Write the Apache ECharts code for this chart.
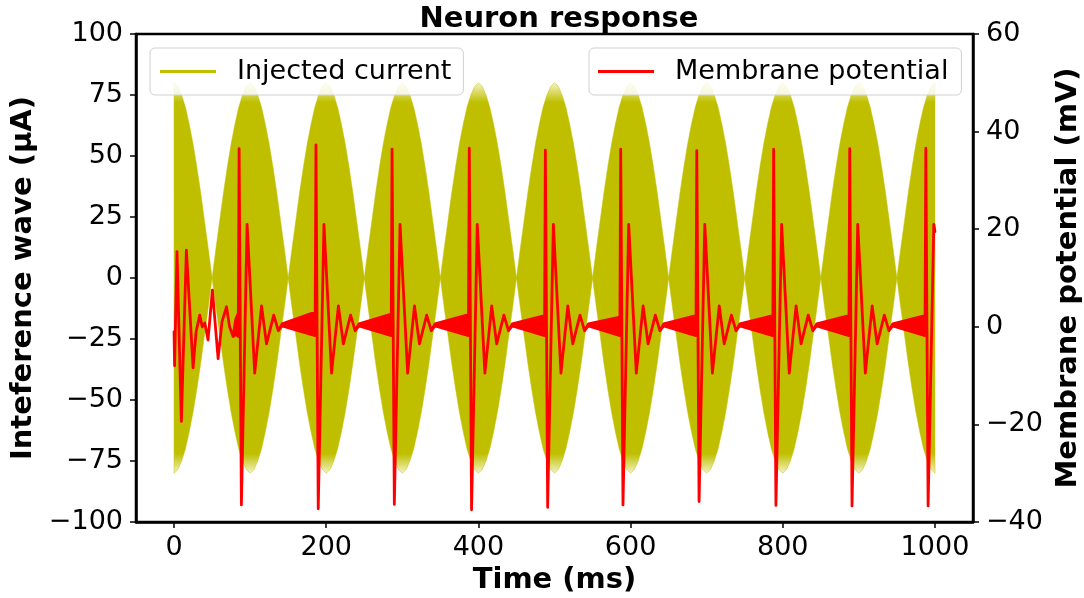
<!DOCTYPE html>
<html>
<head>
<meta charset="utf-8">
<script src="https://cdn.jsdelivr.net/npm/echarts@6/dist/echarts.min.js"></script>
<style>
html,body{margin:0;padding:0;background:#ffffff;}
#chart{width:1084px;height:598px;}
</style>
</head>
<body>
<div id="chart"></div>
<script>
// ---------- data ----------
const xTickValues = [0, 200, 400, 600, 800, 1000];

// Injected current: amplitude envelope of the fast carrier (µA), every 5 ms
const envTime = [
  0,5,10,15,20,25,30,35,40,45,50,55,60,65,70,75,80,85,90,95,
  100,105,110,115,120,125,130,135,140,145,150,155,160,165,170,175,180,185,190,195,
  200,205,210,215,220,225,230,235,240,245,250,255,260,265,270,275,280,285,290,295,
  300,305,310,315,320,325,330,335,340,345,350,355,360,365,370,375,380,385,390,395,
  400,405,410,415,420,425,430,435,440,445,450,455,460,465,470,475,480,485,490,495,
  500,505,510,515,520,525,530,535,540,545,550,555,560,565,570,575,580,585,590,595,
  600,605,610,615,620,625,630,635,640,645,650,655,660,665,670,675,680,685,690,695,
  700,705,710,715,720,725,730,735,740,745,750,755,760,765,770,775,780,785,790,795,
  800,805,810,815,820,825,830,835,840,845,850,855,860,865,870,875,880,885,890,895,
  900,905,910,915,920,925,930,935,940,945,950,955,960,965,970,975,980,985,990,995,
  1000
];
const envAmp = [
  80,78.5,75,70,63,55,45.5,35,23.5,12,0,12,23.5,35,45.5,55,63,70,75,78.5,
  80,78.5,75,70,63,55,45.5,35,23.5,12,0,12,23.5,35,45.5,55,63,70,75,78.5,
  80,78.5,75,70,63,55,45.5,35,23.5,12,0,12,23.5,35,45.5,55,63,70,75,78.5,
  80,78.5,75,70,63,55,45.5,35,23.5,12,0,12,23.5,35,45.5,55,63,70,75,78.5,
  80,78.5,75,70,63,55,45.5,35,23.5,12,0,12,23.5,35,45.5,55,63,70,75,78.5,
  80,78.5,75,70,63,55,45.5,35,23.5,12,0,12,23.5,35,45.5,55,63,70,75,78.5,
  80,78.5,75,70,63,55,45.5,35,23.5,12,0,12,23.5,35,45.5,55,63,70,75,78.5,
  80,78.5,75,70,63,55,45.5,35,23.5,12,0,12,23.5,35,45.5,55,63,70,75,78.5,
  80,78.5,75,70,63,55,45.5,35,23.5,12,0,12,23.5,35,45.5,55,63,70,75,78.5,
  80,78.5,75,70,63,55,45.5,35,23.5,12,0,12,23.5,35,45.5,55,63,70,75,78.5,
  80
];

// Membrane potential (mV): lower / upper edge of the trace (they differ where the trace is fuzzy)
const mpTime = [
  0,0.7,1.5,3.9,9.6,16.2,25,29,33.8,37,40.5,44.7,50.4,57.9,63,68.9,73,77.6,81,84.5,
  85.5,88.5,96,106,115,121.5,131,137,142,185.5,
  186.5,189.5,197,207,216,222.5,232,238,243,285.5,
  286.5,289.5,297,307,316,322.5,332,338,343,387,
  388,391,398.5,408.5,417.5,424,433.5,439.5,444.5,487,
  488,491,498.5,508.5,517.5,524,533.5,539.5,544.5,586,
  587,590,597.5,607.5,616.5,623,632.5,638.5,643.5,686,
  687,690,697.5,707.5,716.5,723,732.5,738.5,743.5,787,
  788,791,798.5,808.5,817.5,824,833.5,839.5,844.5,887,
  888,891,898.5,908.5,917.5,924,933.5,939.5,944.5,987,
  988,991,998.5,1000
];
const mpLow = [
  -1,-8,-2,15.4,-19.4,15.7,-8.4,-1,2.4,0,0.8,-2.7,7.5,-6.5,1,4.1,0,-2,-1.5,-2,
  36.5,-36.5,21,-9.5,4.3,-3.5,2.4,-0.8,0.2,-1.8,
  37.3,-37.3,21,-9.5,4.3,-3.5,2.4,-0.8,0.2,-1.8,
  36.4,-36.4,21,-9.5,4.3,-3.5,2.4,-0.8,0.2,-1.8,
  36.6,-37.5,21,-9.5,4.3,-3.5,2.4,-0.8,0.2,-1.8,
  36.2,-37,21,-9.5,4.3,-3.5,2.4,-0.8,0.2,-1.8,
  36.4,-36.5,21,-9.5,4.3,-3.5,2.4,-0.8,0.2,-1.8,
  36.1,-35.8,21,-9.5,4.3,-3.5,2.4,-0.8,0.2,-1.8,
  36.4,-36.6,21,-9.5,4.3,-3.5,2.4,-0.8,0.2,-1.8,
  36.5,-36.7,21,-9.5,4.3,-3.5,2.4,-0.8,0.2,-1.8,
  36.6,-36.7,21,19.5
];
const mpHigh = [
  -1,-8,-2,15.4,-19.4,15.7,-8.4,-1,2.4,0,0.8,-2.7,7.5,-6.5,1,4.1,0,-2,1.5,2.8,
  36.5,-36.5,21,-9.5,4.3,-3.5,2.4,-0.8,0.6,3,
  37.3,-37.3,21,-9.5,4.3,-3.5,2.4,-0.8,0.6,2.6,
  36.4,-36.4,21,-9.5,4.3,-3.5,2.4,-0.8,0.6,2.5,
  36.6,-37.5,21,-9.5,4.3,-3.5,2.4,-0.8,0.6,2.3,
  36.2,-37,21,-9.5,4.3,-3.5,2.4,-0.8,0.6,2,
  36.4,-36.5,21,-9.5,4.3,-3.5,2.4,-0.8,0.6,2.3,
  36.1,-35.8,21,-9.5,4.3,-3.5,2.4,-0.8,0.6,2.3,
  36.4,-36.6,21,-9.5,4.3,-3.5,2.4,-0.8,0.6,2.3,
  36.5,-36.7,21,-9.5,4.3,-3.5,2.4,-0.8,0.6,2.3,
  36.6,-36.7,21,19.5
];

// ---------- styling ----------
const OLIVE = '#bfbf00';
const OLIVE_PALE = '#f3f3c4';
const RED = '#ff0000';
const FONT = 'DejaVu Sans';
const TICK_FS = 27;
const LABEL_FS = 29;

const envLow = envAmp.map(v => -v);

function bandRenderer(times, lows, highs, fill, stroke, lw) {
  return function (params, api) {
    const pts = [];
    for (let i = 0; i < times.length; i++) pts.push(api.coord([times[i], highs[i]]));
    for (let i = times.length - 1; i >= 0; i--) pts.push(api.coord([times[i], lows[i]]));
    return {
      type: 'polygon',
      shape: { points: pts },
      style: { fill: fill(api), stroke: stroke(api), lineWidth: lw, lineJoin: 'round' }
    };
  };
}

// pale tips of the carrier (anti-aliased peaks) as a vertical gradient in pixel space
function oliveFill(api) {
  const top = api.coord([0, 80])[1];
  const bot = api.coord([0, -80])[1];
  const h = bot - top;
  const k = (api.coord([0, 72])[1] - top) / h;
  return new echarts.graphic.LinearGradient(0, top, 0, bot, [
    { offset: 0, color: OLIVE_PALE },
    { offset: k, color: OLIVE },
    { offset: 1 - k, color: OLIVE },
    { offset: 1, color: OLIVE_PALE }
  ], true);
}

const minus = v => String(v).replace('-', '\u2212');

const chart = echarts.init(document.getElementById('chart'), null, { renderer: 'canvas' });
chart.setOption({
  animation: false,
  backgroundColor: '#ffffff',
  title: {
    text: 'Neuron response',
    left: 554, top: 0, textAlign: 'center',
    textStyle: { fontFamily: FONT, fontSize: LABEL_FS, fontWeight: 'bold', color: '#000' }
  },
  grid: {
    left: 136, right: 111, top: 34, bottom: 76,
    outerBoundsMode: 'none', containLabel: false,
    show: true, borderColor: '#000', borderWidth: 2.5, backgroundColor: 'transparent'
  },
  legend: [
    {
      left: 150, top: 48,
      data: [{ name: 'Injected current', icon: 'rect', itemStyle: { color: OLIVE } }],
      itemWidth: 56, itemHeight: 3,
      padding: [10, 12, 10, 10],
      backgroundColor: 'rgba(255,255,255,0.8)',
      borderColor: '#d0d0d0', borderWidth: 1, borderRadius: 5,
      selectedMode: false,
      textStyle: { fontFamily: FONT, fontSize: TICK_FS, color: '#000', padding: [0, 0, 0, 16] }
    },
    {
      left: 589, top: 48,
      data: [{ name: 'Membrane potential', icon: 'rect', itemStyle: { color: RED } }],
      itemWidth: 56, itemHeight: 3,
      padding: [10, 13, 10, 9],
      backgroundColor: 'rgba(255,255,255,0.8)',
      borderColor: '#d0d0d0', borderWidth: 1, borderRadius: 5,
      selectedMode: false,
      textStyle: { fontFamily: FONT, fontSize: TICK_FS, color: '#000', padding: [0, 0, 0, 16] }
    }
  ],
  xAxis: {
    type: 'value', min: -50, max: 1050,
    name: 'Time (ms)', nameLocation: 'middle', nameGap: 42,
    nameTextStyle: { fontFamily: FONT, fontSize: LABEL_FS, fontWeight: 'bold', color: '#000' },
    splitLine: { show: false },
    axisLine: { show: true, onZero: false, lineStyle: { color: '#000', width: 2.5 } },
    axisTick: { show: true, customValues: xTickValues, length: 6, lineStyle: { color: '#000', width: 1.5 } },
    axisLabel: { customValues: xTickValues, fontFamily: FONT, fontSize: TICK_FS, color: '#000', margin: 12, formatter: minus }
  },
  yAxis: [
    {
      type: 'value', min: -100, max: 100, interval: 25, position: 'left',
      name: 'Inteference wave (µA)', nameLocation: 'middle', nameGap: 96, nameRotate: 90,
      nameTextStyle: { fontFamily: FONT, fontSize: LABEL_FS, fontWeight: 'bold', color: '#000' },
      splitLine: { show: false },
      axisLine: { show: true, onZero: false, lineStyle: { color: '#000', width: 2.5 } },
      axisTick: { show: true, length: 6, lineStyle: { color: '#000', width: 1.5 } },
      axisLabel: { fontFamily: FONT, fontSize: TICK_FS, color: '#000', margin: 13, formatter: minus }
    },
    {
      type: 'value', min: -40, max: 60, interval: 20, position: 'right',
      name: 'Membrane potential (mV)', nameLocation: 'middle', nameGap: 73, nameRotate: 90,
      nameTextStyle: { fontFamily: FONT, fontSize: LABEL_FS, fontWeight: 'bold', color: '#000' },
      splitLine: { show: false },
      axisLine: { show: true, onZero: false, lineStyle: { color: '#000', width: 2.5 } },
      axisTick: { show: true, length: 6, lineStyle: { color: '#000', width: 1.5 } },
      axisLabel: { fontFamily: FONT, fontSize: TICK_FS, color: '#000', margin: 13, formatter: minus }
    }
  ],
  series: [
    {
      name: 'Injected current', type: 'custom', xAxisIndex: 0, yAxisIndex: 0,
      itemStyle: { color: OLIVE }, z: 2, silent: true,
      encode: { x: 0, y: 1 },
      data: [[envTime[0], envAmp[0]]],
      renderItem: bandRenderer(envTime, envLow, envAmp, oliveFill, () => 'rgba(191,191,0,0.6)', 0.8)
    },
    {
      name: 'Membrane potential', type: 'custom', xAxisIndex: 0, yAxisIndex: 1,
      itemStyle: { color: RED }, z: 3, silent: true,
      encode: { x: 0, y: 1 },
      data: [[mpTime[0], mpLow[0]]],
      renderItem: bandRenderer(mpTime, mpLow, mpHigh, () => RED, () => RED, 2.8)
    }
  ]
});
</script>
</body>
</html>
